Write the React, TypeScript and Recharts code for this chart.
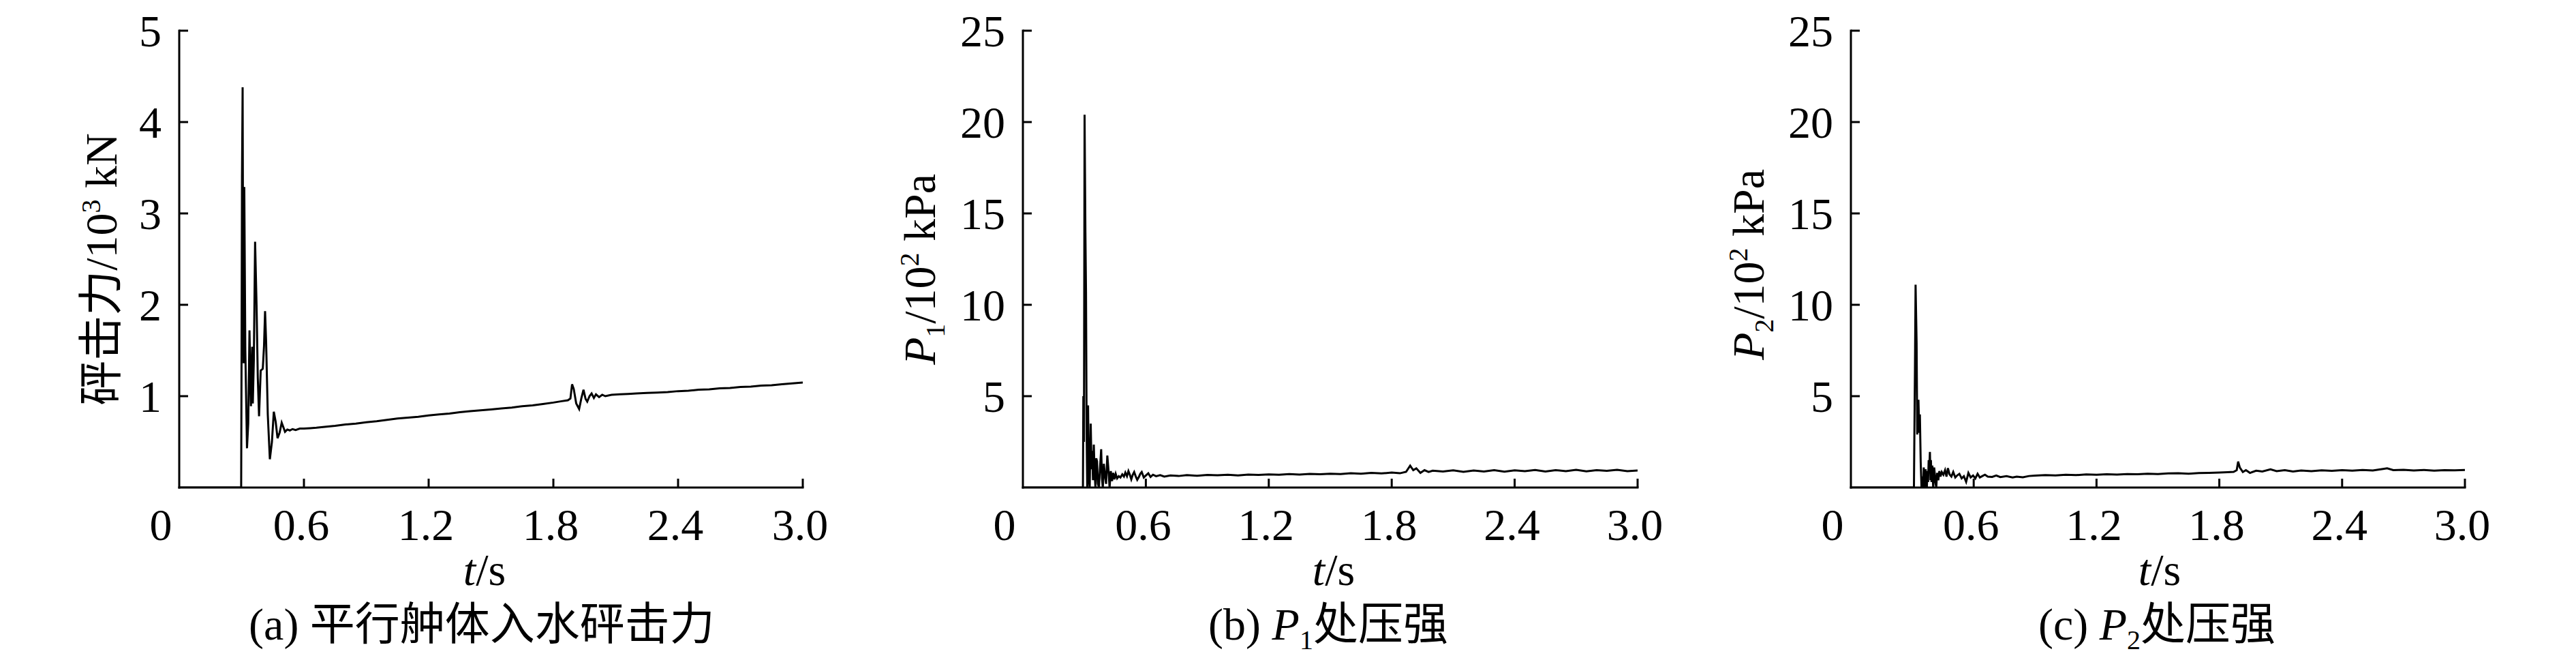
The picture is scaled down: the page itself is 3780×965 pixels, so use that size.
import React from 'react';
import { LineChart, Line, XAxis, YAxis } from 'recharts';

const LATIN = '"Liberation Serif", "Times New Roman", "Noto Sans CJK SC", serif';
const FS = 66;

// ---------- tick values / labels ----------
const xTicks = [0, 0.6, 1.2, 1.8, 2.4, 3.0];
const xTickLabels = ['0', '0.6', '1.2', '1.8', '2.4', '3.0'];
const yTicksForce = [1, 2, 3, 4, 5];
const yTicksPressure = [5, 10, 15, 20, 25];

// ---------- (a) slamming force, 10^3 kN ----------
const tA = [
  0, 0.298, 0.300, 0.302, 0.305, 0.307, 0.310, 0.313, 0.318, 0.326,
  0.332, 0.338, 0.345, 0.351, 0.354, 0.359, 0.365, 0.372, 0.378, 0.384,
  0.392, 0.402, 0.408, 0.413, 0.418, 0.426, 0.436, 0.446, 0.455, 0.464,
  0.473, 0.483, 0.493, 0.501, 0.509, 0.520, 0.532, 0.545, 0.560, 0.580,
  0.600, 0.630, 0.660, 0.700, 0.750, 0.800, 0.850, 0.900, 0.950, 1.000,
  1.050, 1.100, 1.150, 1.200, 1.250, 1.300, 1.350, 1.400, 1.450, 1.500,
  1.550, 1.600, 1.650, 1.700, 1.750, 1.800, 1.840, 1.870, 1.882, 1.890,
  1.898, 1.910, 1.924, 1.935, 1.945, 1.955, 1.963, 1.974, 1.984, 1.995,
  2.005, 2.020, 2.035, 2.050, 2.080, 2.120, 2.160, 2.200, 2.250, 2.300,
  2.350, 2.400, 2.450, 2.500, 2.550, 2.600, 2.650, 2.700, 2.750, 2.800,
  2.850, 2.900, 2.950, 3.000,
];
const forceA = [
  0, 0, 1.54, 3.40, 4.38, 2.60, 1.36, 3.29, 1.50, 0.43,
  0.70, 1.72, 0.89, 1.54, 0.92, 1.40, 2.69, 2.00, 1.20, 0.78,
  1.28, 1.30, 1.55, 1.93, 1.60, 0.80, 0.31, 0.50, 0.83, 0.72,
  0.54, 0.60, 0.71, 0.66, 0.61, 0.635, 0.625, 0.64, 0.63, 0.645,
  0.645, 0.65, 0.655, 0.665, 0.675, 0.69, 0.70, 0.715, 0.725, 0.74,
  0.755, 0.765, 0.775, 0.79, 0.80, 0.81, 0.825, 0.835, 0.845, 0.855,
  0.865, 0.875, 0.89, 0.90, 0.915, 0.93, 0.945, 0.955, 0.975, 1.13,
  1.08, 0.92, 0.86, 0.98, 1.07, 0.97, 0.94, 1.00, 1.03, 0.98,
  1.02, 0.99, 1.015, 1.00, 1.015, 1.02, 1.025, 1.03, 1.035, 1.04,
  1.045, 1.055, 1.06, 1.07, 1.075, 1.085, 1.09, 1.10, 1.105, 1.115,
  1.12, 1.13, 1.14, 1.15,
];

// ---------- (b) pressure at P1, 10^2 kPa ----------
const tB = [
  0, 0.293, 0.295, 0.298, 0.301, 0.305, 0.308, 0.311, 0.314, 0.318,
  0.322, 0.326, 0.331, 0.335, 0.338, 0.342, 0.346, 0.350, 0.354, 0.358,
  0.362, 0.366, 0.371, 0.376, 0.382, 0.386, 0.390, 0.395, 0.401, 0.406,
  0.412, 0.418, 0.423, 0.429, 0.435, 0.441, 0.447, 0.453, 0.460, 0.468,
  0.476, 0.485, 0.493, 0.500, 0.508, 0.515, 0.522, 0.529, 0.536, 0.543,
  0.551, 0.558, 0.566, 0.573, 0.580, 0.590, 0.600, 0.612, 0.623, 0.635,
  0.650, 0.670, 0.690, 0.720, 0.760, 0.800, 0.850, 0.900, 0.950, 1.000,
  1.050, 1.100, 1.150, 1.200, 1.250, 1.300, 1.350, 1.400, 1.450, 1.500,
  1.550, 1.600, 1.650, 1.700, 1.750, 1.800, 1.840, 1.870, 1.890, 1.905,
  1.920, 1.940, 1.960, 1.980, 2.000, 2.050, 2.100, 2.150, 2.200, 2.250,
  2.300, 2.350, 2.400, 2.450, 2.500, 2.550, 2.600, 2.650, 2.700, 2.750,
  2.800, 2.850, 2.900, 2.950, 3.000,
];
const pressureP1 = [
  0, 0, 5.0, 2.5, 20.4, 14.0, 10.7, 3.0, 0, 4.5,
  0.5, 0, 3.5, 1.0, 2.0, 0.4, 2.35, 0.8, 0, 1.6,
  1.43, 0.2, 0, 1.0, 2.1, 0.5, 0, 1.3, 0.6, 0.2,
  1.75, 0.9, 0, 0.9, 0.35, 0.8, 0.45, 0.75, 0.5, 0.62,
  0.55, 0.72, 0.6, 0.82, 0.62, 0.9, 0.7, 0.45, 0.7, 0.85,
  0.6, 0.42, 0.58, 0.75, 0.85, 0.55, 0.66, 0.78, 0.58, 0.70,
  0.62, 0.68, 0.60, 0.66, 0.63, 0.68, 0.64, 0.69, 0.67, 0.70,
  0.66, 0.71, 0.69, 0.72, 0.70, 0.74, 0.71, 0.75, 0.73, 0.76,
  0.74, 0.78, 0.76, 0.80, 0.77, 0.82, 0.78, 0.86, 1.20, 0.95,
  1.05, 0.80, 0.95, 0.85, 0.92, 0.88, 0.94, 0.86, 0.93, 0.88,
  0.95, 0.87, 0.94, 0.90, 0.96, 0.88, 0.95, 0.90, 0.97, 0.89,
  0.95, 0.91, 0.97, 0.90, 0.93,
];

// ---------- (c) pressure at P2, 10^2 kPa ----------
const tC = [
  0, 0.308, 0.310, 0.313, 0.316, 0.319, 0.321, 0.324, 0.327, 0.330,
  0.334, 0.337, 0.341, 0.345, 0.349, 0.353, 0.356, 0.359, 0.362, 0.365,
  0.368, 0.371, 0.374, 0.377, 0.380, 0.383, 0.386, 0.389, 0.391, 0.394,
  0.398, 0.402, 0.407, 0.413, 0.417, 0.421, 0.427, 0.432, 0.438, 0.444,
  0.452, 0.460, 0.467, 0.474, 0.482, 0.491, 0.500, 0.510, 0.519, 0.530,
  0.541, 0.552, 0.563, 0.574, 0.585, 0.597, 0.608, 0.619, 0.630, 0.641,
  0.655, 0.669, 0.690, 0.710, 0.730, 0.760, 0.790, 0.810, 0.840, 0.870,
  0.900, 0.950, 1.000, 1.050, 1.100, 1.150, 1.200, 1.250, 1.300, 1.350,
  1.400, 1.450, 1.500, 1.550, 1.600, 1.650, 1.700, 1.750, 1.800, 1.840,
  1.870, 1.885, 1.892, 1.900, 1.915, 1.930, 1.950, 1.980, 2.010, 2.050,
  2.080, 2.120, 2.160, 2.200, 2.250, 2.300, 2.350, 2.400, 2.450, 2.500,
  2.550, 2.600, 2.620, 2.650, 2.700, 2.750, 2.800, 2.850, 2.900, 2.950,
  3.000,
];
const pressureP2 = [
  0, 0, 2.7, 6.5, 11.1, 9.2, 7.9, 2.9, 3.6, 4.8,
  3.0, 4.0, 1.4, 0, 0.6, 0, 1.1, 0.3, 0, 1.0,
  0.5, 0, 0.9, 0.3, 1.5, 1.0, 1.95, 0.4, 1.5, 0.3,
  1.2, 0, 1.1, 0.3, 0, 0.8, 0.4, 0.9, 0.6, 0.85,
  0.7, 0.95, 0.6, 1.06, 0.72, 0.6, 0.85, 0.55, 0.66, 0.75,
  0.5, 0.62, 0.31, 0.8, 0.55, 0.66, 0.5, 0.75, 0.55, 0.62,
  0.70, 0.60, 0.58, 0.66, 0.57, 0.62, 0.55, 0.60, 0.56, 0.63,
  0.65, 0.68, 0.66, 0.70, 0.68, 0.72, 0.70, 0.73, 0.71, 0.74,
  0.73, 0.76, 0.74, 0.77, 0.78, 0.76, 0.79, 0.80, 0.82, 0.84,
  0.86, 0.95, 1.42, 1.10, 0.85, 0.95, 0.80, 0.92, 0.88, 1.00,
  0.90, 0.95, 0.88, 0.93, 0.90, 0.94, 0.91, 0.95, 0.92, 0.96,
  0.93, 1.02, 1.05, 0.95, 0.97, 0.93, 0.96, 0.92, 0.95, 0.94,
  0.96,
];

const zip = (ts: number[], vs: number[]) => ts.map((t, i) => ({ t, v: vs[i] }));
const dataA = zip(tA, forceA);
const dataB = zip(tB, pressureP1);
const dataC = zip(tC, pressureP2);

const XTick = (props: any) => {
  const { x, y, payload } = props;
  const v = payload.value;
  const i = xTicks.findIndex((k) => Math.abs(k - v) < 1e-9);
  const label = i >= 0 ? xTickLabels[i] : String(v);
  const dx = v === 0 ? -27 : -4;
  return (
    <g>
      {v !== 0 && <line x1={x} y1={y} x2={x} y2={y - 13} stroke="#000" strokeWidth={3} />}
      <text x={x + dx} y={y + 77} textAnchor="middle" fontSize={FS} fontFamily={LATIN} fill="#000">
        {label}
      </text>
    </g>
  );
};

const YTick = (props: any) => {
  const { x, y, payload } = props;
  return (
    <g>
      <line x1={x} y1={y} x2={x + 13} y2={y} stroke="#000" strokeWidth={3} />
      <text x={x - 26} y={y + 23} textAnchor="end" fontSize={FS} fontFamily={LATIN} fill="#000">
        {payload.value}
      </text>
    </g>
  );
};

type PanelProps = {
  left: number;
  yWidth: number;
  rightMargin: number;
  data: { t: number; v: number }[];
  yTicks: number[];
  yMax: number;
};

function Panel({ left, yWidth, rightMargin, data, yTicks, yMax }: PanelProps) {
  const axisStyle = { stroke: '#000', strokeWidth: 3, strokeLinecap: 'square' as const };
  return (
    <div style={{ position: 'absolute', left, top: 0, width: 1260, height: 965 }}>
      <LineChart width={1260} height={965} data={data} margin={{ top: 45, right: rightMargin, left: 0, bottom: 0 }}>
        <XAxis
          dataKey="t"
          type="number"
          domain={[0, 3]}
          ticks={xTicks}
          interval={0}
          height={250}
          tickSize={0}
          tickMargin={0}
          tickLine={false}
          axisLine={axisStyle}
          tick={<XTick />}
          allowDataOverflow
        />
        <YAxis
          type="number"
          domain={[0, yMax]}
          ticks={yTicks}
          interval={0}
          width={yWidth}
          tickSize={0}
          tickMargin={0}
          tickLine={false}
          axisLine={axisStyle}
          tick={<YTick />}
          allowDataOverflow
        />
        <Line
          dataKey="v"
          type="linear"
          stroke="#000"
          strokeWidth={3}
          dot={false}
          isAnimationActive={false}
        />
      </LineChart>
    </div>
  );
}

function Texts() {
  const common = { fontSize: FS, fontFamily: LATIN, fill: '#000' };
  return (
    <svg
      width={3780}
      height={965}
      style={{ position: 'absolute', left: 0, top: 0, pointerEvents: 'none' }}
    >
      {/* y-axis titles */}
      <text {...common} x={171} y={395} transform="rotate(-90 171 395)" textAnchor="middle">
        砰击力/10<tspan fontSize={40} dy={-24}>3</tspan>
        <tspan dy={24}> kN</tspan>
      </text>
      <text {...common} x={1372} y={395} transform="rotate(-90 1372 395)" textAnchor="middle">
        <tspan fontStyle="italic">P</tspan>
        <tspan fontSize={40} dy={14}>1</tspan>
        <tspan dy={-14}>/10</tspan>
        <tspan fontSize={40} dy={-24}>2</tspan>
        <tspan dy={24}> kPa</tspan>
      </text>
      <text {...common} x={2588} y={388} transform="rotate(-90 2588 388)" textAnchor="middle">
        <tspan fontStyle="italic">P</tspan>
        <tspan fontSize={40} dy={14}>2</tspan>
        <tspan dy={-14}>/10</tspan>
        <tspan fontSize={40} dy={-24}>2</tspan>
        <tspan dy={24}> kPa</tspan>
      </text>

      {/* x-axis titles */}
      {[711, 1957, 3169].map((cx) => (
        <text key={cx} {...common} x={cx} y={858} textAnchor="middle">
          <tspan fontStyle="italic">t</tspan>/s
        </text>
      ))}

      {/* captions */}
      <text {...common} x={707} y={938} textAnchor="middle">
        (a) 平行舯体入水砰击力
      </text>
      <text {...common} x={1949} y={938} textAnchor="middle">
        (b) <tspan fontStyle="italic">P</tspan>
        <tspan fontSize={40} dy={14}>1</tspan>
        <tspan dy={-14}>处压强</tspan>
      </text>
      <text {...common} x={3165} y={938} textAnchor="middle">
        (c) <tspan fontStyle="italic">P</tspan>
        <tspan fontSize={40} dy={14}>2</tspan>
        <tspan dy={-14}>处压强</tspan>
      </text>
    </svg>
  );
}

export default function App() {
  return (
    <div style={{ position: 'absolute', left: 0, top: 0, width: 3780, height: 965, background: '#fff' }}>
      <Panel left={0} yWidth={263} rightMargin={82} data={dataA} yTicks={yTicksForce} yMax={5} />
      <Panel left={1260} yWidth={241} rightMargin={117} data={dataB} yTicks={yTicksPressure} yMax={25} />
      <Panel left={2520} yWidth={196} rightMargin={163} data={dataC} yTicks={yTicksPressure} yMax={25} />
      <Texts />
    </div>
  );
}
